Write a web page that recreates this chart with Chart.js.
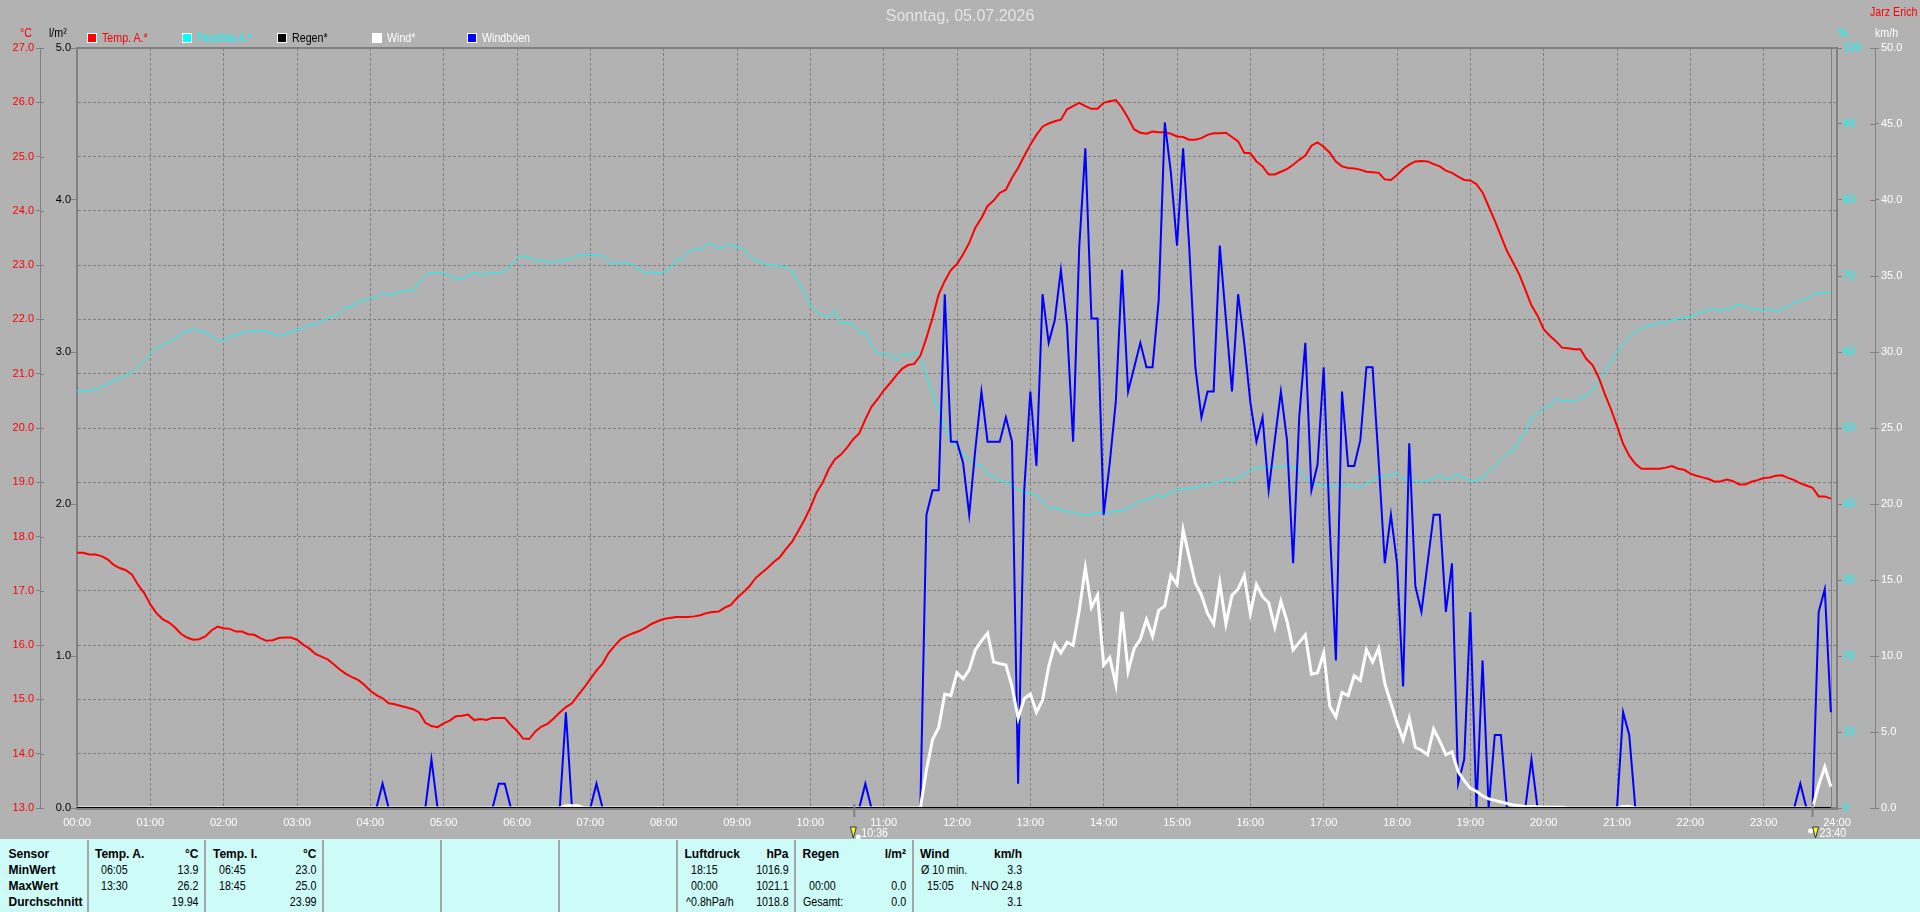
<!DOCTYPE html>
<html>
<head>
<meta charset="utf-8">
<title>Sonntag, 05.07.2026</title>
<script src="https://cdn.jsdelivr.net/npm/chart.js@4"></script>
<style>
html, body { margin: 0; padding: 0; background: #b2b2b2; overflow: hidden; }
#wrap { position: relative; width: 1920px; height: 912px; }
#cv { position: absolute; left: 0; top: 0; }
.t { position: absolute; white-space: nowrap; font: 13px/16px "Liberation Sans", Arial, sans-serif; transform: scaleX(.82); transform-origin: 0 50%; }
.t.r { transform-origin: 100% 50%; }
.b { font: bold 12px/16px "Liberation Sans", Arial, sans-serif; color: #000; transform: none; }
.box { position: absolute; width: 8px; height: 8px; border: 1px solid #fff; }
#panel { position: absolute; left: 0; top: 839px; width: 1920px; height: 73px; background: #ccfbf8; }
.sep { position: absolute; top: 840px; width: 2px; height: 72px; background: #a6a6a6; }
</style>
</head>
<body>
<div id="wrap">
<canvas id="cv" width="1920" height="912"></canvas>
<div id="panel"></div>
</div>
<script>
// values every 5 minutes, one row per hour
var tempA = [
17.70,17.70,17.67,17.67,17.64,17.58,17.48,17.42,17.38,17.30,17.11,16.96,
16.75,16.59,16.48,16.42,16.33,16.21,16.14,16.10,16.11,16.16,16.27,16.34,
16.31,16.30,16.25,16.25,16.20,16.19,16.13,16.08,16.09,16.13,16.14,16.14,
16.10,16.01,15.94,15.84,15.79,15.74,15.65,15.55,15.47,15.41,15.36,15.27,
15.16,15.08,15.02,14.93,14.91,14.88,14.85,14.82,14.76,14.57,14.51,14.49,
14.56,14.61,14.69,14.70,14.72,14.62,14.64,14.62,14.66,14.66,14.66,14.53,
14.42,14.28,14.27,14.41,14.50,14.55,14.65,14.76,14.86,14.93,15.08,15.22,
15.38,15.53,15.66,15.86,15.99,16.11,16.17,16.22,16.26,16.32,16.39,16.44,
16.48,16.50,16.52,16.52,16.52,16.53,16.55,16.59,16.61,16.62,16.69,16.74,
16.87,16.97,17.08,17.23,17.33,17.42,17.53,17.62,17.77,17.90,18.10,18.30,
18.53,18.81,18.99,19.24,19.42,19.51,19.64,19.79,19.90,20.16,20.39,20.53,
20.69,20.82,20.96,21.09,21.16,21.18,21.33,21.66,22.03,22.46,22.71,22.91,
23.02,23.20,23.41,23.69,23.87,24.09,24.19,24.33,24.39,24.61,24.79,25.01,
25.22,25.40,25.55,25.61,25.65,25.68,25.87,25.93,25.99,25.93,25.88,25.88,
25.99,26.02,26.04,25.90,25.71,25.50,25.44,25.42,25.46,25.45,25.45,25.42,
25.37,25.36,25.31,25.31,25.34,25.40,25.43,25.43,25.44,25.36,25.28,25.07,
25.06,24.91,24.82,24.67,24.67,24.72,24.77,24.85,24.94,25.02,25.20,25.26,
25.18,25.07,24.91,24.82,24.79,24.78,24.76,24.72,24.71,24.70,24.58,24.57,
24.66,24.77,24.85,24.91,24.92,24.91,24.86,24.82,24.74,24.70,24.63,24.57,
24.56,24.49,24.34,24.08,23.82,23.54,23.26,23.05,22.83,22.55,22.26,22.07,
21.82,21.70,21.60,21.48,21.47,21.45,21.45,21.27,21.16,20.93,20.63,20.35,
20.04,19.71,19.49,19.34,19.25,19.25,19.25,19.25,19.27,19.30,19.25,19.23,
19.16,19.12,19.09,19.06,19.01,19.02,19.05,19.02,18.96,18.96,19.01,19.04,
19.08,19.09,19.12,19.13,19.08,19.04,18.98,18.94,18.90,18.74,18.74,18.70
];
var feuchteA = [
54.93,54.93,54.93,55.06,55.37,55.77,56.25,56.42,56.95,57.26,58.13,58.83,
59.71,60.54,60.94,61.38,61.73,62.38,62.74,62.96,62.82,62.60,62.08,61.55,
61.55,62.03,62.21,62.47,62.78,62.74,62.82,62.78,62.43,62.08,62.25,62.65,
62.96,63.17,63.66,63.61,64.09,64.49,64.75,65.06,65.94,66.02,66.55,66.90,
67.12,67.08,67.91,67.38,67.69,67.95,67.95,68.00,69.22,70.10,70.45,70.45,
70.36,69.97,69.66,69.53,70.10,70.45,70.23,70.23,70.41,70.45,70.58,71.41,
72.29,72.69,72.43,72.03,72.12,71.77,71.85,71.90,72.25,72.29,72.73,72.78,
72.82,72.82,72.60,71.85,71.72,71.59,71.72,71.46,70.85,70.41,70.54,70.41,
70.50,70.98,72.16,72.34,73.17,73.48,73.52,74.18,74.22,73.56,73.87,74.09,
73.70,73.61,72.64,72.07,71.85,71.37,71.37,71.33,71.11,70.67,69.22,67.91,
66.16,65.37,64.84,64.62,65.41,63.83,63.74,63.74,62.43,62.65,60.89,59.89,
59.71,59.80,58.90,59.80,59.54,60.02,59.36,56.73,54.54,52.35,50.16,48.32,
47.53,46.65,45.77,45.25,45.12,43.93,43.67,43.06,42.84,42.62,41.83,41.52,
41.35,41.26,40.30,39.42,39.51,39.29,38.94,38.98,38.72,38.50,38.72,38.76,
38.89,38.94,39.02,39.02,39.55,39.81,40.47,40.51,40.95,41.13,40.95,41.48,
41.92,41.83,42.09,42.09,42.44,42.44,42.79,42.88,43.36,43.06,43.41,43.85,
44.46,44.77,44.77,44.85,44.90,44.90,45.12,44.81,44.55,43.36,42.92,42.49,
42.40,42.36,42.36,42.40,42.44,42.40,42.18,42.79,43.01,43.58,43.67,43.85,
44.02,43.23,43.14,43.14,42.84,43.14,43.28,43.89,43.32,43.41,43.89,43.41,
43.10,43.10,43.41,44.37,45.03,45.77,46.65,47.00,48.41,49.50,51.26,51.83,
52.66,52.88,53.89,53.58,53.67,53.36,54.02,54.20,54.99,56.52,57.40,58.71,
60.03,61.12,61.91,62.66,63.09,63.53,63.53,63.97,63.88,64.19,64.41,64.50,
64.54,65.07,65.20,65.64,65.59,65.46,65.64,65.94,66.21,65.90,65.68,65.59,
65.46,65.59,65.37,65.72,66.03,66.51,66.78,67.04,67.48,67.83,67.83,67.83
];
var regen = [
0,0,0,0,0,0,0,0,0,0,0,0, 0,0,0,0,0,0,0,0,0,0,0,0, 0,0,0,0,0,0,0,0,0,0,0,0, 0,0,0,0,0,0,0,0,0,0,0,0,
0,0,0,0,0,0,0,0,0,0,0,0, 0,0,0,0,0,0,0,0,0,0,0,0, 0,0,0,0,0,0,0,0,0,0,0,0, 0,0,0,0,0,0,0,0,0,0,0,0,
0,0,0,0,0,0,0,0,0,0,0,0, 0,0,0,0,0,0,0,0,0,0,0,0, 0,0,0,0,0,0,0,0,0,0,0,0, 0,0,0,0,0,0,0,0,0,0,0,0,
0,0,0,0,0,0,0,0,0,0,0,0, 0,0,0,0,0,0,0,0,0,0,0,0, 0,0,0,0,0,0,0,0,0,0,0,0, 0,0,0,0,0,0,0,0,0,0,0,0,
0,0,0,0,0,0,0,0,0,0,0,0, 0,0,0,0,0,0,0,0,0,0,0,0, 0,0,0,0,0,0,0,0,0,0,0,0, 0,0,0,0,0,0,0,0,0,0,0,0,
0,0,0,0,0,0,0,0,0,0,0,0, 0,0,0,0,0,0,0,0,0,0,0,0, 0,0,0,0,0,0,0,0,0,0,0,0, 0,0,0,0,0,0,0,0,0,0,0,0
];
var wind = [
0,0,0,0,0,0,0,0,0,0,0,0, 0,0,0,0,0,0,0,0,0,0,0,0, 0,0,0,0,0,0,0,0,0,0,0,0, 0,0,0,0,0,0,0,0,0,0,0,0,
0,0,0,0,0,0,0,0,0,0,0,0, 0,0,0,0,0,0,0,0,0,0,0,0,
0,0,0,0,0,0,0,0,.15,.15,.15,0,
0,0,0,0,0,0,0,0,0,0,0,0, 0,0,0,0,0,0,0,0,0,0,0,0, 0,0,0,0,0,0,0,0,0,0,0,0, 0,0,0,0,0,0,0,0,0,0,0,0,
0,0,0,0,0,0,0,2.5,4.5,5.3,7.5,7.4,
8.9,8.5,9.1,10.4,11,11.5,9.6,9.5,9.4,8,5.9,7.2,
7.5,6.3,7.1,9.3,10.8,10.2,10.9,10.7,13,15.8,13.2,14,
9.4,9.9,8.1,12.9,9,10.5,11.1,12.4,11.3,13,13.3,15.3,
14.7,18.3,16.5,14.8,14,12.8,12.1,14.8,12.1,14,14.4,15.3,
12.8,14.7,13.9,13.5,11.9,13.6,12.3,10.4,10.9,11.4,8.8,8.9,
10.2,6.7,6,7.6,7.4,8.7,8.4,10.4,9.6,10.5,8.2,6.9,
5.6,4.5,5.9,4,3.8,3.5,5.2,4.4,3.5,3.7,2.4,1.8,
1.3,1.1,.8,.6,.5,.4,.3,.2,.15,.1,.1,.08,
.07,.05,.05,.05,0,0,0,0,0,0,0,0,
0,.1,.1,0,0,0,0,0,0,0,0,0,
0,0,0,0,0,0,0,0,0,0,0,0,
0,0,0,0,0,0,0,0,0,1.5,2.7,1.4
];
var windboeen = [
0,0,0,0,0,0,0,0,0,0,0,0, 0,0,0,0,0,0,0,0,0,0,0,0, 0,0,0,0,0,0,0,0,0,0,0,0, 0,0,0,0,0,0,0,0,0,0,0,0,
0,0,1.6,0,0,0,0,0,0,0,3.2,0,
0,0,0,0,0,0,0,0,0,1.6,1.6,0,
0,0,0,0,0,0,0,0,6.3,0,0,0,
0,1.6,0,0,0,0,0,0,0,0,0,0,
0,0,0,0,0,0,0,0,0,0,0,0, 0,0,0,0,0,0,0,0,0,0,0,0,
0,0,0,0,0,0,0,0,0,1.6,0,0,
0,0,0,0,0,0,0,19.3,20.9,20.9,33.8,24.1,
24.1,22.7,19.3,23.6,27.4,24.1,24.1,24.1,25.7,24.1,1.6,20.9,
27.4,22.5,33.8,30.6,32.1,35.4,31.7,24.1,36.9,43.4,32.2,32.2,
19.3,22.7,26.8,35.4,27.4,29,30.6,29,29,33.4,45.1,41.8,
37,43.4,36.9,29,25.7,27.4,27.4,37,32.2,27.4,33.8,30.6,
26.7,24.1,25.7,20.9,24.2,27.4,24.2,16.1,25.7,30.6,20.9,22.6,
29,18.5,9.7,27.4,22.5,22.5,24.2,29,29,22.8,16.1,19.3,
16.1,8,24,14.6,12.9,16.1,19.3,19.3,12.9,16.1,1.6,3.2,
12.9,0,9.7,0,4.8,4.8,0,0,0,0,3.2,0,
0,0,0,0,0,0,0,0,0,0,0,0,
0,6.3,4.8,0,0,0,0,0,0,0,0,0,
0,0,0,0,0,0,0,0,0,0,0,0,
0,0,0,0,0,0,1.6,0,0,12.9,14.4,6.3
];
var hourLabels = ['00:00','01:00','02:00','03:00','04:00','05:00','06:00','07:00','08:00','09:00','10:00','11:00','12:00',
    '13:00','14:00','15:00','16:00','17:00','18:00','19:00','20:00','21:00','22:00','23:00','24:00'];
var sunMarks = [636, 1420];   // sunrise / sunset in minutes, 10:36 and 23:40
var sunLabels = ['10:36', '23:40'];

var FONT = '"Liberation Sans", Arial, sans-serif';
var GREY = '#808080';

function points(values) {
    var out = [];
    for (var i = 0; i < values.length; i++) {
        out.push({x: i * 5, y: values[i]});
    }
    return out;
}

function line(label, values, color, width, axis, order) {
    return {label: label, data: points(values), borderColor: color, backgroundColor: color, borderWidth: width,
        pointRadius: 0, tension: 0, yAxisID: axis, order: order, borderJoinStyle: 'miter'};
}

function yAxis(pos, min, max, step, color, width, digits, tickLen, pad, weight, onChart, borderW) {
    return {
        type: 'linear', position: pos, min: min, max: max, weight: weight,
        afterFit: function(s) { s.width = width; },
        // border.dash is what dashes the grid lines, the axis line itself stays solid
        border: {display: true, color: GREY, width: borderW, dash: [3, 2]},
        grid: {drawOnChartArea: onChart, color: GREY, lineWidth: 1, tickColor: GREY, tickLength: tickLen, tickBorderDash: [], drawTicks: true},
        ticks: {stepSize: step, color: color, padding: pad, font: {family: FONT, size: 11}, maxRotation: 0, autoSkip: false,
            callback: function(v) { return v.toFixed(digits); }}
    };
}

// frame of the plot, end-of-data line, inner tick stubs and sun markers
var framePlugin = {
    id: 'frame',
    beforeDatasetsDraw: function(chart) {
        var c = chart.ctx, a = chart.chartArea, x = chart.scales.x;
        c.save();
        c.strokeStyle = GREY;
        c.lineWidth = 1;
        var end = Math.round(x.getPixelForValue((tempA.length - 1) * 5)) + 0.5;
        c.beginPath(); c.moveTo(end, a.top); c.lineTo(end, a.bottom); c.stroke();
        c.lineWidth = 2;
        c.beginPath(); c.moveTo(a.left, a.top); c.lineTo(a.right, a.top); c.stroke();
        c.restore();
    },
    afterDraw: function(chart) {
        var c = chart.ctx, x = chart.scales.x;
        c.save();
        c.strokeStyle = GREY;
        c.lineWidth = 1;
        [chart.scales.yT, chart.scales.yW].forEach(function(s) {
            var fromX = s.id === 'yT' ? s.right : s.left;
            var dx = s.id === 'yT' ? 4 : -5;
            s.ticks.forEach(function(t) {
                var y = Math.round(s.getPixelForValue(t.value)) + 0.5;
                c.beginPath(); c.moveTo(fromX, y); c.lineTo(fromX + dx, y); c.stroke();
            });
        });
        sunMarks.forEach(function(m, i) {
            var px = x.getPixelForValue(m);
            c.strokeStyle = GREY;
            c.lineWidth = 2;
            c.beginPath(); c.moveTo(px, 804); c.lineTo(px, 817); c.stroke();
            var ax = i === 0 ? px - 1 : px + 3;
            var wx = i === 0 ? px + 4 : px - 2;
            var wy = i === 0 ? 837 : 831;
            c.fillStyle = '#ffff00';
            c.strokeStyle = '#303060';
            c.lineWidth = 1;
            c.beginPath(); c.moveTo(ax - 3, 827); c.lineTo(ax + 3, 827); c.lineTo(ax, 838); c.closePath(); c.fill(); c.stroke();
            c.fillStyle = '#ffffff';
            c.beginPath(); c.arc(wx, wy, 2.5, 0, Math.PI * 2); c.fill();
            c.save();
            c.translate(px + 7, 833.5);
            c.scale(0.82, 1);
            c.font = '13px ' + FONT;
            c.textBaseline = 'middle';
            c.fillText(sunLabels[i], 0, 0);
            c.restore();
        });
        c.restore();
    }
};

var chart = new Chart(document.getElementById('cv').getContext('2d'), {
    type: 'line',
    data: {
        datasets: [
            line('Temp. A.*', tempA, '#ff0000', 2, 'yT', 4),
            line('Feuchte A.*', feuchteA, '#00ffff', 1, 'yH', 5),
            line('Regen*', regen, '#000000', 2, 'yR', 1),
            line('Wind*', wind, '#ffffff', 3, 'yW', 2),
            line('Windböen', windboeen, '#0000ff', 2, 'yW', 3)
        ]
    },
    plugins: [framePlugin],
    options: {
        responsive: false,
        animation: false,
        layout: {padding: {left: 0, right: 0, top: 0, bottom: 73}},
        plugins: {
            legend: {display: false},
            tooltip: {enabled: false},
            title: {display: true, text: 'Sonntag, 05.07.2026', color: '#e4e4e4',
                font: {family: FONT, size: 16, weight: 'normal', lineHeight: 1.2},
                padding: {top: 6.9, bottom: 21.9}}
        },
        scales: {
            x: {
                type: 'linear', min: 0, max: 1440,
                afterFit: function(s) { s.height = 31; },
                border: {display: true, color: GREY, width: 3, dash: [3, 2]},
                grid: {color: GREY, lineWidth: 1, drawTicks: false},
                ticks: {stepSize: 60, color: '#ffffff', padding: 8, font: {family: FONT, size: 11}, maxRotation: 0, autoSkip: false, includeBounds: true,
                    callback: function(v) { return hourLabels[v / 60]; }}
            },
            yT: yAxis('left', 13, 27, 1, '#ff0000', 40, 1, 4, 2, 2, true, 1),
            yR: yAxis('left', 0, 5, 1, '#000000', 37, 1, 6, 0, 1, false, 2),
            yH: yAxis('right', 0, 100, 10, '#00ffff', 38, 0, 5, 1, 1, false, 2),
            yW: yAxis('right', 0, 50, 5, '#ffffff', 45, 1, 4, 2, 2, false, 1)
        }
    }
});

// texts around the plot and the summary table
var wrap = document.getElementById('wrap');
function put(x, cy, txt, color, alignRight, bold) {
    var d = document.createElement('div');
    d.className = 't' + (bold ? ' b' : '') + (alignRight ? ' r' : '');
    d.textContent = txt;
    d.style.top = (cy - 8) + 'px';
    if (alignRight) {
        d.style.right = (1920 - x) + 'px';
    } else {
        d.style.left = x + 'px';
    }
    if (color) { d.style.color = color; }
    wrap.appendChild(d);
}

put(20, 33, '°C', '#ff0000');
put(49, 33, 'l/m²', '#000000');
put(1838, 33, '%', '#00ffff');
put(1875, 33, 'km/h', '#ffffff');
put(1870, 12, 'Jarz Erich', '#ff0000');

var legendX = [87, 182, 277, 372, 467];
chart.data.datasets.forEach(function(ds, i) {
    var b = document.createElement('div');
    b.className = 'box';
    b.style.left = legendX[i] + 'px';
    b.style.top = '33px';
    b.style.background = ds.borderColor;
    wrap.appendChild(b);
    put(legendX[i] + 15, 38, ds.label, ds.label === 'Windböen' ? '#ffffff' : ds.borderColor);
});

var sepX = [88, 205, 323, 441, 559, 677, 795, 913];
sepX.forEach(function(x) {
    var s = document.createElement('div');
    s.className = 'sep';
    s.style.left = x - 1 + 'px';
    wrap.appendChild(s);
});

var rowY = [854, 870, 886, 902];
['Sensor', 'MinWert', 'MaxWert', 'Durchschnitt'].forEach(function(t, i) { put(8.5, rowY[i], t, '#000', false, true); });

// column: left of header, left of times, right edge, header, unit, left texts, right texts
var tableCols = [
    [95, 101, 198.5, 'Temp. A.', '°C', ['06:05', '13:30', ''], ['13.9', '26.2', '19.94']],
    [213, 219, 316.5, 'Temp. I.', '°C', ['06:45', '18:45', ''], ['23.0', '25.0', '23.99']],
    [684.5, 691, 788.5, 'Luftdruck', 'hPa', ['18:15', '00:00', ''], ['1016.9', '1021.1', '1018.8']],
    [802.5, 809, 906, 'Regen', 'l/m²', ['', '00:00', ''], ['', '0.0', '0.0']],
    [920, 926.5, 1022, 'Wind', 'km/h', ['', '15:05', ''], ['3.3', 'N-NO 24.8', '3.1']]
];
tableCols.forEach(function(col) {
    put(col[0], rowY[0], col[3], '#000', false, true);
    put(col[2], rowY[0], col[4], '#000', true, true);
    for (var i = 0; i < 3; i++) {
        if (col[5][i]) { put(col[1], rowY[i + 1], col[5][i], '#000'); }
        if (col[6][i]) { put(col[2], rowY[i + 1], col[6][i], '#000', true); }
    }
});
put(685.5, rowY[3], '^0.8hPa/h', '#000');
put(802.5, rowY[3], 'Gesamt:', '#000');
put(920.5, rowY[1], 'Ø 10 min.', '#000');
</script>
</body>
</html>
